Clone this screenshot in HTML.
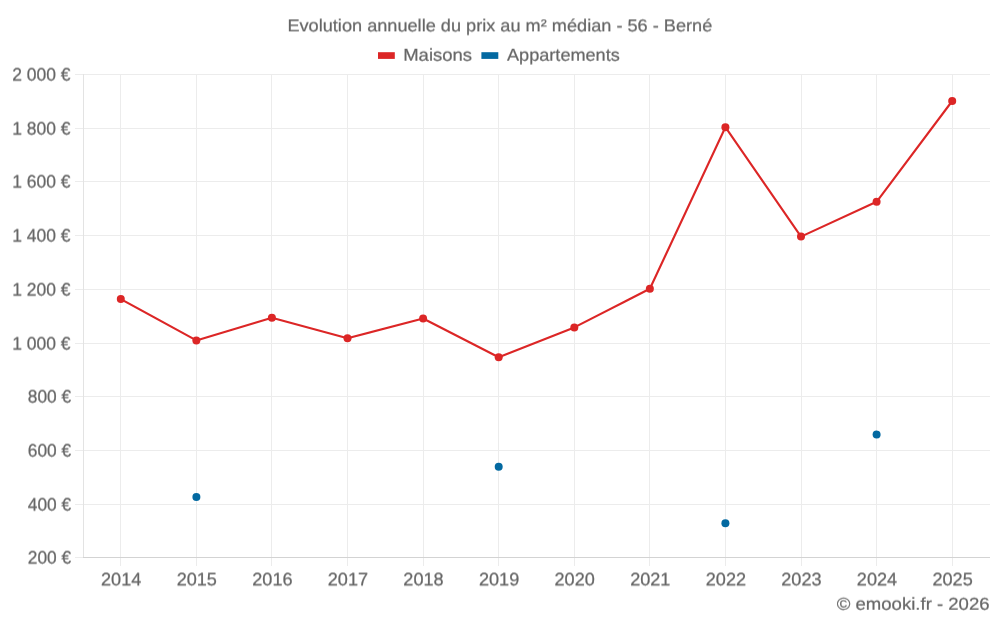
<!DOCTYPE html>
<html lang="fr"><head><meta charset="utf-8"><title>Evolution annuelle du prix au m² médian - 56 - Berné</title>
<style>
html,body{margin:0;padding:0;background:#fff;}
body{width:1000px;height:625px;overflow:hidden;}
svg{display:block;}
text{font-family:"Liberation Sans",sans-serif;font-size:17.3px;fill:#666666;stroke:#666666;stroke-width:0.22;text-rendering:geometricPrecision;}
text.yl,text.xl{font-size:18.1px;stroke-width:0.25;}
#txt{will-change:transform;filter:grayscale(1);}
</style></head><body>
<svg width="1000" height="625" viewBox="0 0 1000 625">
<defs>
<filter id="s4" filterUnits="userSpaceOnUse" x="0" y="0" width="1000" height="625" color-interpolation-filters="sRGB"><feConvolveMatrix order="1 2" kernelMatrix="0.60 0.40" targetX="0" targetY="1" edgeMode="none" preserveAlpha="false"/></filter>
<filter id="s6" filterUnits="userSpaceOnUse" x="0" y="0" width="1000" height="625" color-interpolation-filters="sRGB"><feConvolveMatrix order="1 2" kernelMatrix="0.40 0.60" targetX="0" targetY="1" edgeMode="none" preserveAlpha="false"/></filter>
<filter id="s8" filterUnits="userSpaceOnUse" x="0" y="0" width="1000" height="625" color-interpolation-filters="sRGB"><feConvolveMatrix order="1 2" kernelMatrix="0.25 0.75" targetX="0" targetY="1" edgeMode="none" preserveAlpha="false"/></filter>
</defs>
<rect width="1000" height="625" fill="#fff"/>
<g shape-rendering="crispEdges">
<rect x="120" y="74" width="1" height="492" fill="#ececec"/>
<rect x="196" y="74" width="1" height="492" fill="#ececec"/>
<rect x="271" y="74" width="1" height="492" fill="#ececec"/>
<rect x="347" y="74" width="1" height="492" fill="#ececec"/>
<rect x="423" y="74" width="1" height="492" fill="#ececec"/>
<rect x="498" y="74" width="1" height="492" fill="#ececec"/>
<rect x="574" y="74" width="1" height="492" fill="#ececec"/>
<rect x="649" y="74" width="1" height="492" fill="#ececec"/>
<rect x="725" y="74" width="1" height="492" fill="#ececec"/>
<rect x="801" y="74" width="1" height="492" fill="#ececec"/>
<rect x="876" y="74" width="1" height="492" fill="#ececec"/>
<rect x="952" y="74" width="1" height="492" fill="#ececec"/>
<rect x="75" y="74" width="915" height="1" fill="#ececec"/>
<rect x="75" y="128" width="915" height="1" fill="#ececec"/>
<rect x="75" y="181" width="915" height="1" fill="#ececec"/>
<rect x="75" y="235" width="915" height="1" fill="#ececec"/>
<rect x="75" y="289" width="915" height="1" fill="#ececec"/>
<rect x="75" y="343" width="915" height="1" fill="#ececec"/>
<rect x="75" y="396" width="915" height="1" fill="#ececec"/>
<rect x="75" y="450" width="915" height="1" fill="#ececec"/>
<rect x="75" y="504" width="915" height="1" fill="#ececec"/>
<rect x="75" y="557" width="8" height="1" fill="#ececec"/>
<rect x="83" y="557" width="907" height="1" fill="#d3d3d3"/>
<rect x="83" y="74" width="1" height="483" fill="#e3e3e3"/>
</g>
<g id="txt">
<g filter="url(#s4)">
<text x="499.85" y="31" text-anchor="middle" id="title" textLength="424.9" lengthAdjust="spacingAndGlyphs">Evolution annuelle du prix au m² médian - 56 - Berné</text>
<text x="121.2" y="585" text-anchor="middle" class="xl" textLength="40.3" lengthAdjust="spacingAndGlyphs">2014</text>
<text x="196.8" y="585" text-anchor="middle" class="xl" textLength="40.3" lengthAdjust="spacingAndGlyphs">2015</text>
<text x="272.4" y="585" text-anchor="middle" class="xl" textLength="40.3" lengthAdjust="spacingAndGlyphs">2016</text>
<text x="347.9" y="585" text-anchor="middle" class="xl" textLength="40.3" lengthAdjust="spacingAndGlyphs">2017</text>
<text x="423.5" y="585" text-anchor="middle" class="xl" textLength="40.3" lengthAdjust="spacingAndGlyphs">2018</text>
<text x="499.1" y="585" text-anchor="middle" class="xl" textLength="40.3" lengthAdjust="spacingAndGlyphs">2019</text>
<text x="574.7" y="585" text-anchor="middle" class="xl" textLength="40.3" lengthAdjust="spacingAndGlyphs">2020</text>
<text x="650.3" y="585" text-anchor="middle" class="xl" textLength="40.3" lengthAdjust="spacingAndGlyphs">2021</text>
<text x="725.9" y="585" text-anchor="middle" class="xl" textLength="40.3" lengthAdjust="spacingAndGlyphs">2022</text>
<text x="801.4" y="585" text-anchor="middle" class="xl" textLength="40.3" lengthAdjust="spacingAndGlyphs">2023</text>
<text x="877.0" y="585" text-anchor="middle" class="xl" textLength="40.3" lengthAdjust="spacingAndGlyphs">2024</text>
<text x="952.6" y="585" text-anchor="middle" class="xl" textLength="40.3" lengthAdjust="spacingAndGlyphs">2025</text>
</g>
<g filter="url(#s8)">
<text x="403.2" y="60" id="lg1" textLength="68.9" lengthAdjust="spacingAndGlyphs">Maisons</text>
<text x="507" y="60" id="lg2" textLength="112.8" lengthAdjust="spacingAndGlyphs">Appartements</text>
<text x="989.6" y="609" text-anchor="end" id="ft" textLength="152.9" lengthAdjust="spacingAndGlyphs">© emooki.fr - 2026</text>
</g>
<g filter="url(#s6)">
<text x="70.6" y="80" text-anchor="end" class="yl" textLength="58.4" lengthAdjust="spacingAndGlyphs">2 000 €</text>
<text x="70.6" y="134" text-anchor="end" class="yl" textLength="58.4" lengthAdjust="spacingAndGlyphs">1 800 €</text>
<text x="70.6" y="187" text-anchor="end" class="yl" textLength="58.4" lengthAdjust="spacingAndGlyphs">1 600 €</text>
<text x="70.6" y="241" text-anchor="end" class="yl" textLength="58.4" lengthAdjust="spacingAndGlyphs">1 400 €</text>
<text x="70.6" y="295" text-anchor="end" class="yl" textLength="58.4" lengthAdjust="spacingAndGlyphs">1 200 €</text>
<text x="70.6" y="349" text-anchor="end" class="yl" textLength="58.4" lengthAdjust="spacingAndGlyphs">1 000 €</text>
<text x="71.2" y="402" text-anchor="end" class="yl" textLength="43.4" lengthAdjust="spacingAndGlyphs">800 €</text>
<text x="71.2" y="456" text-anchor="end" class="yl" textLength="43.4" lengthAdjust="spacingAndGlyphs">600 €</text>
<text x="71.2" y="510" text-anchor="end" class="yl" textLength="43.4" lengthAdjust="spacingAndGlyphs">400 €</text>
<text x="71.2" y="563" text-anchor="end" class="yl" textLength="43.4" lengthAdjust="spacingAndGlyphs">200 €</text>
</g>
</g>
<rect x="378" y="52.2" width="16.8" height="6.7" fill="#dc2626"/>
<rect x="481.4" y="52.2" width="16.9" height="6.7" fill="#0369a1"/>
<polyline points="120.8,299.1 196.35,340.4 271.9,317.8 347.5,338.3 423.1,318.5 498.7,357.2 574.3,327.4 649.85,288.8 725.4,127.2 801.0,236.6 876.6,201.8 952.2,101.0" fill="none" stroke="#dc2626" stroke-width="2.1" stroke-linejoin="round" stroke-linecap="round"/>
<circle cx="120.8" cy="299.1" r="4.0" fill="#dc2626"/>
<circle cx="196.35" cy="340.4" r="4.0" fill="#dc2626"/>
<circle cx="271.9" cy="317.8" r="4.0" fill="#dc2626"/>
<circle cx="347.5" cy="338.3" r="4.0" fill="#dc2626"/>
<circle cx="423.1" cy="318.5" r="4.0" fill="#dc2626"/>
<circle cx="498.7" cy="357.2" r="4.0" fill="#dc2626"/>
<circle cx="574.3" cy="327.4" r="4.0" fill="#dc2626"/>
<circle cx="649.85" cy="288.8" r="4.0" fill="#dc2626"/>
<circle cx="725.4" cy="127.2" r="4.0" fill="#dc2626"/>
<circle cx="801.0" cy="236.6" r="4.0" fill="#dc2626"/>
<circle cx="876.6" cy="201.8" r="4.0" fill="#dc2626"/>
<circle cx="952.2" cy="101.0" r="4.0" fill="#dc2626"/>
<circle cx="196.4" cy="497.1" r="4.0" fill="#0369a1"/>
<circle cx="498.7" cy="466.8" r="4.0" fill="#0369a1"/>
<circle cx="725.4" cy="523.2" r="4.0" fill="#0369a1"/>
<circle cx="876.6" cy="434.6" r="4.0" fill="#0369a1"/>
</svg></body></html>
